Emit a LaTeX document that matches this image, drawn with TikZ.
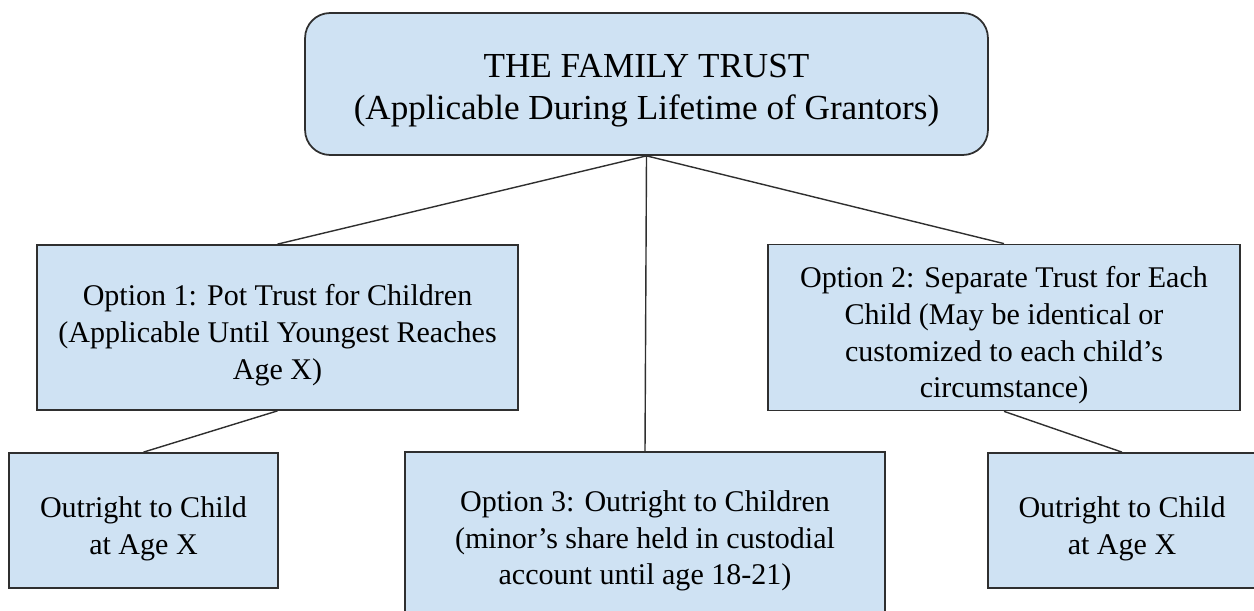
\documentclass[tikz,border=0pt]{standalone}
\usepackage{fontspec}
\setmainfont{Liberation Serif}
\definecolor{boxblue}{HTML}{CFE2F3}
\definecolor{edgegray}{HTML}{2F2F2F}
\newcommand{\boxstrut}[1][1.22em]{\rule{0pt}{#1}}
\tikzset{
  trustbox/.style={draw=edgegray, fill=boxblue, line width=1pt, align=center, inner sep=0pt,
    font=\fontsize{17.1}{21}\selectfont},
  headbox/.style={trustbox, rounded corners=0.5cm, font=\fontsize{20}{23.6}\selectfont},
  link/.style={draw=edgegray, line width=0.8pt},
}
\begin{document}
\begin{tikzpicture}[x=0.02cm, y=-0.02cm]
\useasboundingbox (0,0) rectangle (1254,611);
\begin{scope}
\clip (0,0) rectangle (1254,611);
% top level
\node[headbox, minimum width=13.66cm, minimum height=2.84cm] (family) at (646.5,84) {\boxstrut[1.04em]THE FAMILY TRUST\\(Applicable During Lifetime of Grantors)};
% the three options
\node[trustbox, minimum width=9.62cm, minimum height=3.3cm] (pot) at (277.5,327.5) {\boxstrut Option 1: Pot Trust for Children\\(Applicable Until Youngest Reaches\\Age X)};
\node[trustbox, minimum width=9.44cm, minimum height=3.32cm] (separate) at (1004,327.5) {\boxstrut Option 2: Separate Trust for Each\\Child (May be identical or\\customized to each child’s\\circumstance)};
\node[trustbox, minimum width=9.6cm, minimum height=3.24cm] (outright) at (645,533) {\boxstrut Option 3: Outright to Children\\(minor’s share held in custodial\\account until age 18-21)};
% leaves
\node[trustbox, minimum width=5.38cm, minimum height=2.7cm] (childL) at (143.5,520.5) {\boxstrut Outright to Child\\at Age X};
\node[trustbox, minimum width=5.36cm, minimum height=2.7cm] (childR) at (1122,520.5) {\boxstrut Outright to Child\\at Age X};
% connectors
\draw[link] (family.south) -- (pot.north);
\draw[link] (family.south) -- (outright.north);
\draw[link] (family.south) -- (separate.north);
\draw[link] (pot.south) -- (childL.north);
\draw[link] (separate.south) -- (childR.north);
\end{scope}
\end{tikzpicture}
\end{document}
